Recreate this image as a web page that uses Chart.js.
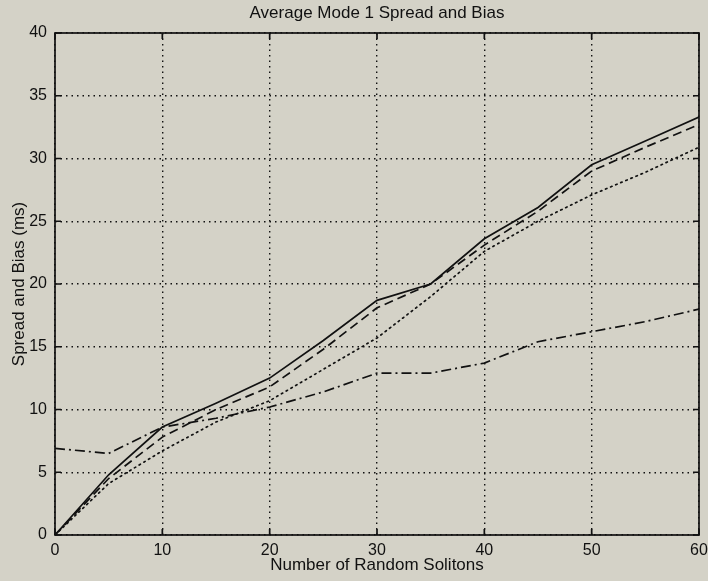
<!DOCTYPE html>
<html>
<head>
<meta charset="utf-8">
<script src="https://cdn.jsdelivr.net/npm/chart.js@4/dist/chart.umd.min.js"></script>
<style>
  html, body { margin: 0; padding: 0; background: #d4d2c7; }
  #wrap { width: 708px; height: 581px; }
</style>
</head>
<body>
<div id="wrap"><canvas id="spreadBias" width="708" height="581"></canvas></div>
<script>
// number of random solitons
const solitons = [0, 5, 10, 15, 20, 25, 30, 35, 40, 45, 50, 55, 60];
const solidSeries   = [0, 4.8, 8.6, 10.5, 12.5, 15.5, 18.7, 20.0, 23.6, 26.1, 29.5, 31.4, 33.3];
const dashedSeries  = [0, 4.5, 7.8, 10.0, 11.8, 14.8, 18.1, 20.0, 23.1, 25.8, 29.0, 30.9, 32.7];
const dottedSeries  = [0, 4.1, 6.7, 9.0, 10.7, 13.2, 15.7, 19.0, 22.6, 25.0, 27.1, 28.9, 30.9];
const dashDotSeries = [6.9, 6.5, 8.6, 9.3, 10.2, 11.4, 12.9, 12.9, 13.7, 15.4, 16.2, 17.0, 18.0];
const yTicks = [0, 5, 10, 15, 20, 25, 30, 35, 40];

const ink = '#111';
const font = 'Liberation Sans, Arial, sans-serif';

function toPoints(vals) {
  return solitons.map((x, i) => ({ x: x, y: vals[i] }));
}

function line(vals, dash, cap) {
  return {
    data: toPoints(vals),
    borderColor: ink,
    borderWidth: 1.7,
    borderDash: dash,
    borderCapStyle: cap || 'butt',
    pointRadius: 0,
    tension: 0,
    fill: false
  };
}

// grey paper behind everything, plus the box and inward ticks
const paper = {
  id: 'paper',
  beforeDraw(chart) {
    const c = chart.ctx;
    c.save();
    c.fillStyle = '#d4d2c7';
    c.fillRect(0, 0, chart.width, chart.height);
    c.restore();
  },
  afterDraw(chart) {
    const c = chart.ctx;
    const a = chart.chartArea;
    const xs = chart.scales.x, ys = chart.scales.y;
    c.save();
    c.strokeStyle = ink;
    c.lineWidth = 1.7;
    c.setLineDash([]);
    c.strokeRect(a.left, a.top, a.right - a.left, a.bottom - a.top);
    c.beginPath();
    xs.ticks.forEach(t => {
      const px = xs.getPixelForValue(t.value);
      c.moveTo(px, a.top); c.lineTo(px, a.top + 6);
      c.moveTo(px, a.bottom); c.lineTo(px, a.bottom - 6);
    });
    ys.ticks.forEach(t => {
      const py = ys.getPixelForValue(t.value);
      c.moveTo(a.left, py); c.lineTo(a.left + 6, py);
      c.moveTo(a.right, py); c.lineTo(a.right - 6, py);
    });
    c.stroke();
    c.restore();
  }
};

const ctx = document.getElementById('spreadBias').getContext('2d');
const chart = new Chart(ctx, {
  type: 'line',
  data: {
    datasets: [
      line(solidSeries, []),
      line(dashedSeries, [9, 5]),
      line(dottedSeries, [1.5, 4], 'round'),
      line(dashDotSeries, [10, 4, 2, 4])
    ]
  },
  options: {
    responsive: false,
    animation: false,
    layout: { padding: { left: 0, right: 9, top: 0, bottom: 0 } },
    plugins: {
      legend: { display: false },
      tooltip: { enabled: false },
      title: {
        display: true,
        fullSize: false,
        text: 'Average Mode 1 Spread and Bias',
        color: ink,
        font: { family: font, size: 17, weight: 'normal' },
        padding: { top: 3, bottom: 9.6 }
      }
    },
    scales: {
      x: {
        type: 'linear',
        min: 0,
        max: 60,
        ticks: {
          stepSize: 10,
          color: ink,
          font: { family: font, size: 16 },
          padding: 6,
          maxRotation: 0
        },
        grid: { color: ink, lineWidth: 1.4, drawTicks: false },
        border: { display: false, dash: [1.5, 4] },
        title: {
          display: true,
          text: 'Number of Random Solitons',
          color: ink,
          font: { family: font, size: 17 },
          padding: { top: 0, bottom: 5 }
        },
        afterFit(s) {
          s.height = 46;
          s.paddingLeft = 0;
          s.paddingRight = 0;
        }
      },
      y: {
        min: 0,
        max: 40,
        afterBuildTicks(s) { s.ticks = yTicks.map(v => ({ value: v })); },
        ticks: {
          color: ink,
          font: { family: font, size: 16 },
          padding: 8
        },
        grid: { color: ink, lineWidth: 1.4, drawTicks: false },
        border: { display: false, dash: [1.5, 4] },
        title: {
          display: true,
          text: 'Spread and Bias (ms)',
          color: ink,
          font: { family: font, size: 17 },
          padding: { top: 9, bottom: 0 }
        },
        afterFit(s) { s.width = 55; }
      }
    }
  },
  plugins: [paper]
});
</script>
</body>
</html>
